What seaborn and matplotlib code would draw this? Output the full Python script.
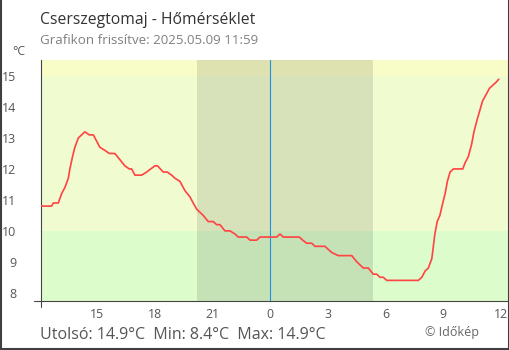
import matplotlib
matplotlib.use("Agg")
import matplotlib.pyplot as plt
from matplotlib.lines import Line2D
import seaborn as sns
import pandas as pd

# ---- data (hours relative to midnight of 2025.05.09; negative = previous day) ----
hours = [-11.91, -11.36, -11.27, -11.01, -10.84, -10.67, -10.49, -10.41, -10.27, -10.15,
         -9.97, -9.80, -9.63, -9.40, -9.19, -9.02, -8.85, -8.59, -8.36, -8.07,
         -7.81, -7.55, -7.32, -7.20, -7.03, -6.68, -6.42, -6.21, -5.99, -5.85,
         -5.56, -5.35, -5.12, -4.95, -4.69, -4.43, -4.17, -4.00, -3.82, -3.65,
         -3.48, -3.22, -2.96, -2.78, -2.61, -2.35, -2.09, -1.83, -1.66, -1.22,
         -1.05, -0.70, -0.53, 0.34, 0.51, 0.68, 1.51, 1.69, 1.90, 2.16,
         2.33, 2.85, 3.02, 3.20, 3.54, 4.24, 4.50, 4.84, 5.10, 5.36,
         5.54, 5.71, 5.88, 6.06, 7.70, 7.88, 8.05, 8.22, 8.40, 8.48,
         8.56, 8.68, 8.82, 8.97, 9.09, 9.21, 9.35, 9.52, 9.72, 10.01,
         10.13, 10.30, 10.47, 10.59, 10.76, 10.90, 11.04, 11.22, 11.39, 11.56,
         11.74, 11.88]
temps = [10.8, 10.8, 10.9, 10.9, 11.2, 11.4, 11.7, 12.0, 12.4, 12.7,
         13.0, 13.1, 13.2, 13.1, 13.1, 12.9, 12.7, 12.6, 12.5, 12.5,
         12.3, 12.1, 12.0, 12.0, 11.8, 11.8, 11.9, 12.0, 12.1, 12.1,
         11.9, 11.9, 11.8, 11.7, 11.6, 11.3, 11.1, 10.9, 10.7, 10.6,
         10.5, 10.3, 10.3, 10.2, 10.2, 10.0, 10.0, 9.9, 9.8, 9.8,
         9.7, 9.7, 9.8, 9.8, 9.9, 9.8, 9.8, 9.7, 9.6, 9.6,
         9.5, 9.5, 9.4, 9.3, 9.2, 9.2, 9.0, 8.8, 8.8, 8.6,
         8.6, 8.5, 8.5, 8.4, 8.4, 8.5, 8.7, 8.8, 9.1, 9.5,
         9.9, 10.3, 10.5, 10.9, 11.2, 11.6, 11.9, 12.0, 12.0, 12.0,
         12.2, 12.4, 12.8, 13.2, 13.6, 13.9, 14.2, 14.4, 14.6, 14.7,
         14.8, 14.9]

tick_hours = [-9, -6, -3, 0, 3, 6, 9, 12]
tick_labels = ["15", "18", "21", "0", "3", "6", "9", "12"]
y_ticks = [8, 9, 10, 11, 12, 13, 14, 15]
sunset, sunrise = -3.80, 5.35

title = "Cserszegtomaj - Hőmérséklet"
subtitle = "Grafikon frissítve: 2025.05.09 11:59"
summary = "Utolsó: 14.9°C  Min: 8.4°C  Max: 14.9°C"
credit = "© Időkép"

df = pd.DataFrame({"h": hours, "t": temps})

sns.set_theme(style="white")
plt.rcParams["font.family"] = ["Open Sans", "DejaVu Sans"]

PX = 0.72  # points per pixel at dpi 100

fig = plt.figure(figsize=(5.1, 3.5), dpi=100)
ax = fig.add_axes([41 / 510, (350 - 300.5) / 350, (508 - 41) / 510, (300.5 - 60) / 350])

ymin, ymax = 7.75, 15.52
xmin, xmax = -11.91, 12.36
ax.set_xlim(xmin, xmax)
ax.set_ylim(ymin, ymax)

# background bands
ax.axhspan(15, ymax, color="#f8fcc6", lw=0, zorder=0)
ax.axhspan(10, 15, color="#f0fcd0", lw=0, zorder=0)
ax.axhspan(ymin, 10, color="#dcfccc", lw=0, zorder=0)
# night shading
ax.axvspan(sunset, sunrise, color="black", alpha=0.1, lw=0, zorder=1)
# midnight line
ax.axvline(0, color="#2090e0", lw=1.1 * PX, zorder=2)

sns.lineplot(data=df, x="h", y="t", ax=ax, color="#ff4444", lw=1.7 * PX, zorder=3)

ax.set_xlabel("")
ax.set_ylabel("")
for s in ["top", "right"]:
    ax.spines[s].set_visible(False)
for s in ["left", "bottom"]:
    ax.spines[s].set_color("#444444")
    ax.spines[s].set_linewidth(1.1 * PX)

ax.set_xticks(tick_hours)
ax.set_xticklabels(tick_labels)
ax.set_yticks(y_ticks)
ax.tick_params(axis="x", direction="in", length=6 * PX, width=1.1 * PX, color="#444444",
               labelsize=8.8, labelcolor="#555555", pad=7 * PX)
ax.tick_params(axis="y", direction="inout", length=13 * PX, width=1.1 * PX, color="#444444",
               labelsize=9, labelcolor="#555555", pad=18 * PX)
ax.set_xticks([12], minor=True)
ax.tick_params(axis="x", which="minor", direction="inout", length=13 * PX, width=1.1 * PX,
               color="#444444")

# axis line extensions (left of x-axis, below y-axis)
ax.add_line(Line2D([-7 / 467, 0], [0, 0], transform=ax.transAxes, color="#444444",
                   lw=1.1 * PX, clip_on=False))
ax.add_line(Line2D([0, 0], [0, -6 / 240.5], transform=ax.transAxes, color="#444444",
                   lw=1.1 * PX, clip_on=False))

# texts
fig.text(40.5 / 510, 1 - 24 / 350, title, fontsize=11.35, color="#333333", ha="left", va="baseline")
fig.text(40.5 / 510, 1 - 44.3 / 350, subtitle, fontsize=9.6, color="#808080", ha="left", va="baseline")
fig.text(12.5 / 510, 1 - 55 / 350, "°C", fontsize=8.8, color="#555555", ha="left", va="baseline")
fig.text(40.5 / 510, 1 - 339.3 / 350, summary, fontsize=11.5, color="#555555", ha="left", va="baseline")
fig.text(425 / 510, 1 - 336 / 350, credit, fontsize=9, color="#666666", ha="left", va="baseline")

# frame border (left, right, bottom)
bc = "#404040"
fig.add_artist(Line2D([1 / 510, 1 / 510], [0, 1], transform=fig.transFigure, color=bc, lw=1.5))
fig.add_artist(Line2D([509 / 510, 509 / 510], [0, 1], transform=fig.transFigure, color=bc, lw=1.5))
fig.add_artist(Line2D([0, 1], [1 / 350, 1 / 350], transform=fig.transFigure, color=bc, lw=1.5))

fig.savefig("out.png", dpi=100)
